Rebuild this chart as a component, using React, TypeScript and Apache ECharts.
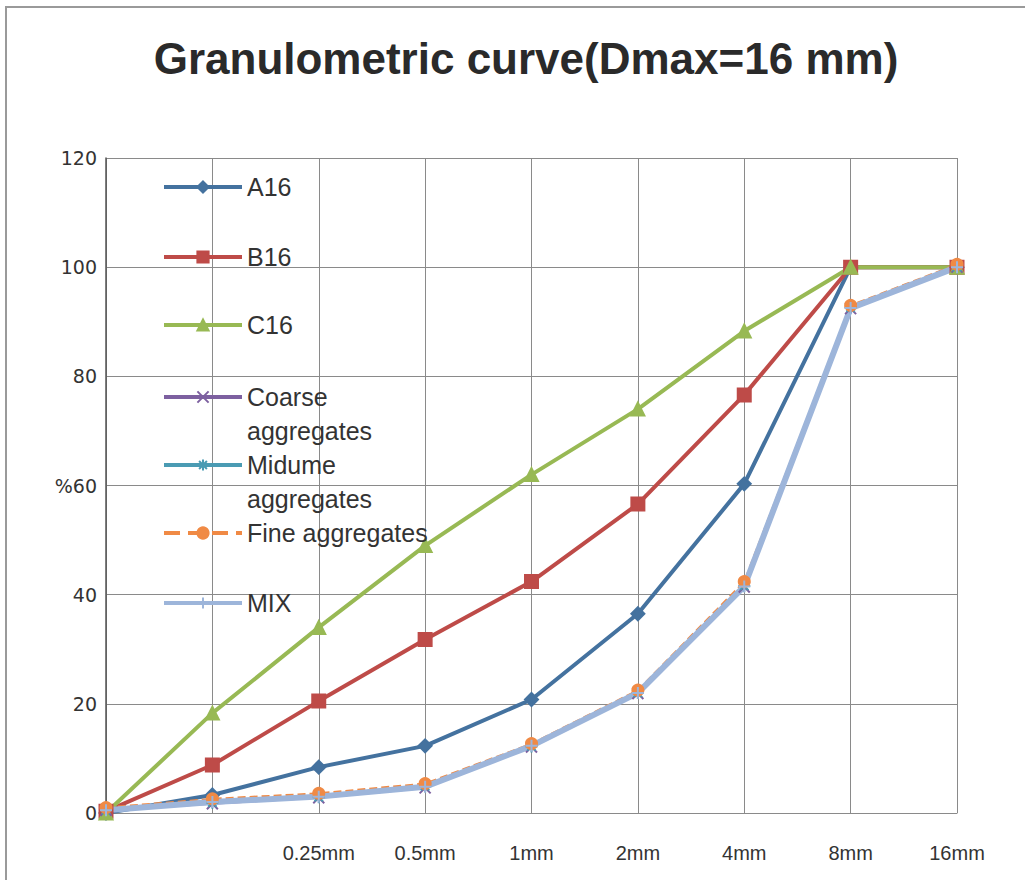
import React, { useEffect, useRef } from "react";
import * as echarts from "echarts";

const title = "Granulometric curve(Dmax=16 mm)";
const categories = ["", " ", "0.25mm", "0.5mm", "1mm", "2mm", "4mm", "8mm", "16mm"];
const a16 = [0, 3.3, 8.4, 12.3, 20.8, 36.5, 60.3, 100, 100];
const b16 = [0.3, 8.8, 20.5, 31.8, 42.4, 56.6, 76.6, 100, 100];
const c16 = [0, 18.3, 34, 49, 62, 74, 88.3, 100, 100];
const coarse = [0.5, 1.7, 2.8, 4.6, 12.1, 21.9, 41.4, 92.4, 100];
const midume = [0.6, 1.9, 2.9, 4.9, 12.2, 22, 41.6, 92.6, 100];
const fine = [1, 2.6, 3.6, 5.4, 12.7, 22.5, 42.4, 93, 100.5];
const mix = [0.5, 2, 3, 4.8, 12.3, 22, 41.5, 92.5, 100];

const X_PATH = "path://M0,0 L10,10 M10,0 L0,10";
const STAR_PATH = "path://M0,5 L10,5 M5,0 L5,10 M1.5,1.5 L8.5,8.5 M8.5,1.5 L1.5,8.5";
const PLUS_PATH = "path://M5,0 L5,10 M0,5 L10,5";

const seriesDefs = [
  { name: "A16", data: a16, color: "#44729f", symbol: "diamond", size: 13, dash: "solid", width: 4 },
  { name: "B16", data: b16, color: "#be4b48", symbol: "rect", size: 13, dash: "solid", width: 4 },
  { name: "C16", data: c16, color: "#98b954", symbol: "triangle", size: 13, dash: "solid", width: 4 },
  { name: "Coarse aggregates", data: coarse, color: "#7d60a0", symbol: X_PATH, size: 11, dash: "solid", width: 2 },
  { name: "Midume aggregates", data: midume, color: "#4a9bb3", symbol: STAR_PATH, size: 12, dash: "solid", width: 2 },
  { name: "Fine aggregates", data: fine, color: "#f08a45", symbol: "circle", size: 11, dash: "dashed", width: 2 },
  { name: "MIX", data: mix, color: "#9db5da", symbol: PLUS_PATH, size: 12, dash: "solid", width: 6 },
];

const legendTops = [170, 240, 308, 346, 414, 516, 586];

export default function App() {
  const ref = useRef<HTMLDivElement>(null);
  useEffect(() => {
    if (!ref.current) return;
    const chart = echarts.init(ref.current, undefined, { renderer: "svg" });
    const twoLine: Record<string, string> = {
      "Coarse aggregates": "\nCoarse\naggregates",
      "Midume aggregates": "\nMidume\naggregates",
    };
    chart.setOption({
      animation: false,
      backgroundColor: "#ffffff",
      title: {
        text: title,
        left: 521,
        textAlign: "center",
        top: 31,
        textStyle: {
          fontFamily: "Liberation Sans, Arial, sans-serif",
          fontWeight: "bold",
          fontSize: 44,
          color: "#2a2a2a",
        },
      },
      legend: seriesDefs.map((s, i) => ({
        data: [s.name],
        orient: "vertical",
        left: 162,
        top: legendTops[i],
        padding: 0,
        itemWidth: 78,
        itemHeight: 14,
        selectedMode: false,
        lineStyle: { width: 4 },
        formatter: (n: string) => twoLine[n] || n,
        textStyle: {
          fontFamily: "Liberation Sans, Arial, sans-serif",
          fontSize: 25,
          color: "#333",
          lineHeight: 34,
        },
      })),
      grid: { left: 106, right: 68, top: 158, bottom: 67 },
      xAxis: {
        type: "category",
        data: categories,
        boundaryGap: false,
        axisLine: { lineStyle: { color: "#8a8a8a", width: 1 } },
        axisTick: { show: false },
        axisLabel: {
          interval: 0,
          margin: 30,
          fontFamily: "Liberation Sans, Arial, sans-serif",
          fontSize: 20,
          color: "#333",
        },
        splitLine: { show: true, lineStyle: { color: "#8a8a8a", width: 1 } },
      },
      yAxis: {
        type: "value",
        min: 0,
        max: 120,
        interval: 20,
        axisLine: { show: true, lineStyle: { color: "#555", width: 1.5 } },
        axisTick: { show: false },
        axisLabel: {
          margin: 9,
          fontFamily: "DejaVu Sans, sans-serif",
          fontSize: 19,
          color: "#333",
          formatter: (v: number) => (v === 60 ? "%60" : String(v)),
        },
        splitLine: { show: true, lineStyle: { color: "#8a8a8a", width: 1 } },
      },
      series: seriesDefs.map((s) => ({
        name: s.name,
        type: "line",
        data: s.data,
        symbol: s.symbol,
        symbolSize: s.size,
        showSymbol: true,
        lineStyle: { color: s.color, width: s.width, type: s.dash },
        itemStyle: { color: s.color, borderColor: s.color, borderWidth: 2 },
        emphasis: { disabled: true },
      })),
      graphic: [
        {
          type: "rect",
          shape: { x: 6, y: 7, width: 1040, height: 900 },
          style: { fill: "none", stroke: "#9a9a9a", lineWidth: 2 },
          silent: true,
        },
      ],
    });
    return () => chart.dispose();
  }, []);
  return (
    <div
      ref={ref}
      style={{ position: "absolute", left: 0, top: 0, width: 1025, height: 880 }}
    />
  );
}
